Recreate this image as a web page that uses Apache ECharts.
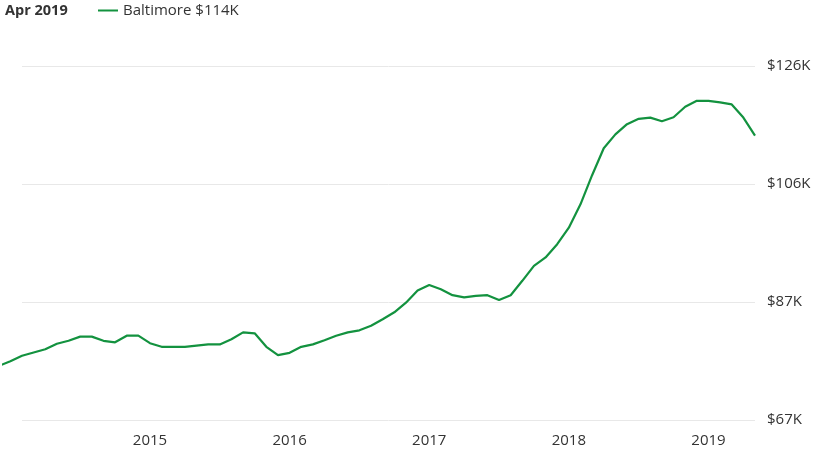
<!DOCTYPE html>
<html>
<head>
<meta charset="utf-8">
<style>
  html, body { margin: 0; padding: 0; background: #fff; }
  #main { width: 817px; height: 457px; }
</style>
</head>
<body>
<div id="main"></div>
<script src="https://cdn.jsdelivr.net/npm/echarts@6/dist/echarts.min.js"></script>
<script type="text/javascript">
    // monthly values (month-end), $K, Nov 2013 .. Apr 2019
    var startYear = 2013, startMonth = 11;
    var values = [
        76.0, 76.8,
        77.7, 78.25, 78.8, 79.7, 80.2, 80.9, 80.9, 80.2, 79.95, 81.05, 81.05, 79.8,
        79.2, 79.2, 79.2, 79.4, 79.6, 79.6, 80.45, 81.6, 81.45, 79.2, 77.8, 78.2,
        79.2, 79.6, 80.3, 81.05, 81.6, 81.95, 82.7, 83.8, 84.95, 86.55, 88.6, 89.5,
        88.8, 87.8, 87.45, 87.7, 87.8, 87.0, 87.8, 90.2, 92.7, 94.1, 96.3, 99.05,
        102.95, 107.8, 112.3, 114.6, 116.3, 117.2, 117.4, 116.8, 117.45, 119.2, 120.2, 120.2,
        119.95, 119.6, 117.4, 114.4
    ];
    var yearTicks = [2015, 2016, 2017, 2018, 2019];
    var seriesName = 'Baltimore';
    var currentLabel = 'Apr 2019';

    var points = values.map(function (v, i) {
        var m = startMonth + i;           // months counted from Jan of startYear
        return [startYear + m / 12, v];
    });

    var myChart = echarts.init(document.getElementById('main'));
    var font = '"Open Sans", sans-serif';

    // axis grid starts at Jan 2014; the line's own grid reaches a bit further left
    var xMax = 2019 + 4 / 12;
    var xMinAxis = 2014 + 1 / 12;
    var pxPerYear = (817 - 22 - 62) / (xMax - xMinAxis);
    var xMinLine = xMinAxis - 18 / pxPerYear;

    var yAxisBase = {
        type: 'value',
        min: 67,
        max: 126,
        interval: 59 / 3,
        axisLine: { show: false },
        axisTick: { show: false }
    };

    var option = {
        animation: false,
        textStyle: { fontFamily: font },
        title: {
            text: currentLabel,
            left: 5, top: 3,
            padding: 0,
            textStyle: { fontFamily: font, fontSize: 14.5, fontWeight: 'bold', color: '#333' }
        },
        legend: {
            left: 98, top: 3,
            padding: 0,
            itemWidth: 20, itemHeight: 2, itemGap: 6,
            icon: 'rect',
            data: [seriesName],
            formatter: function (n) {
                return n + ' $' + Math.floor(values[values.length - 1]) + 'K';
            },
            textStyle: { fontFamily: font, fontSize: 15, color: '#333' }
        },
        grid: [
            { left: 22, right: 62, top: 66, bottom: 37 },
            { left: 4, right: 62, top: 66, bottom: 37 }
        ],
        xAxis: [{
            type: 'value',
            gridIndex: 0,
            min: xMinAxis,
            max: xMax,
            axisLine: { show: false },
            axisTick: { show: false },
            splitLine: { show: false },
            axisLabel: {
                customValues: yearTicks,
                margin: 13,
                fontSize: 15,
                color: '#333',
                fontFamily: font,
                formatter: function (v) { return String(Math.round(v)); }
            }
        }, {
            type: 'value',
            gridIndex: 1,
            min: xMinLine,
            max: xMax,
            show: false
        }],
        yAxis: [Object.assign({}, yAxisBase, {
            gridIndex: 0,
            position: 'right',
            splitLine: { lineStyle: { color: '#e8e8e8', width: 1 } },
            axisLabel: {
                margin: 12,
                fontSize: 15,
                color: '#333',
                fontFamily: font,
                formatter: function (v) { return '$' + Math.round(v) + 'K'; }
            }
        }), Object.assign({}, yAxisBase, {
            gridIndex: 1,
            show: false
        })],
        series: [{
            name: seriesName,
            type: 'line',
            xAxisIndex: 1,
            yAxisIndex: 1,
            data: points,
            symbol: 'none',
            color: '#13923f',
            lineStyle: { width: 2.2, color: '#13923f' }
        }]
    };

    myChart.setOption(option);
</script>
</body>
</html>
